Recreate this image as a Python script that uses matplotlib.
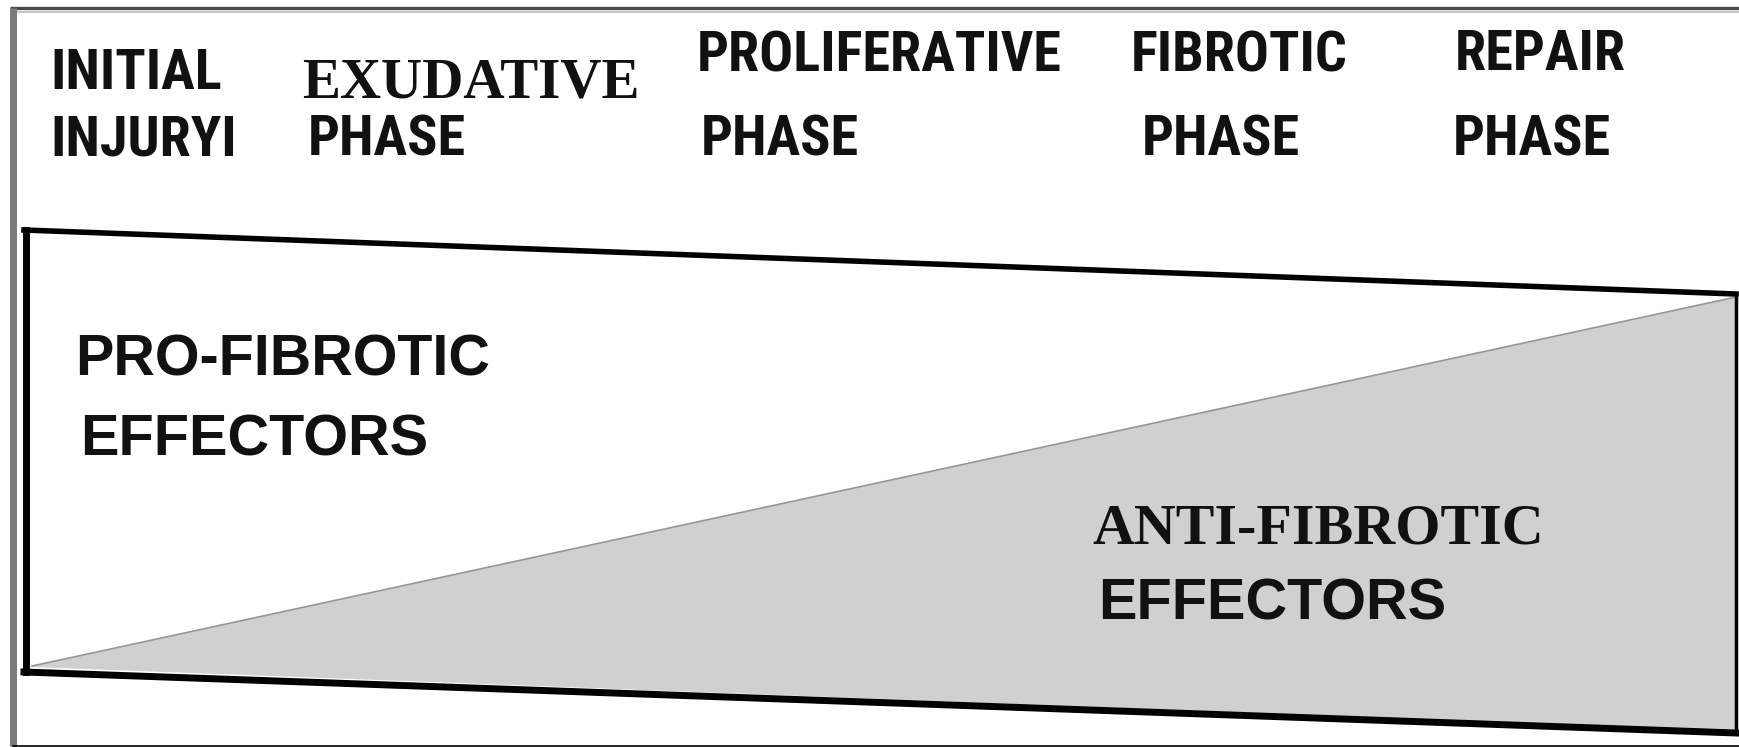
import matplotlib
matplotlib.use("Agg")
import matplotlib.pyplot as plt
from matplotlib import font_manager as fm
from matplotlib.patches import Polygon

# phase labels along the top (two lines each)
phase_top = ["INITIAL", "EXUDATIVE", "PROLIFERATIVE", "FIBROTIC", "REPAIR"]
phase_bottom = ["INJURYI", "PHASE", "PHASE", "PHASE", "PHASE"]
phase_x = [50, 302, 697, 1131, 1455]
phase_bottom_x = [50, 308, 701, 1142, 1453]
phase_top_y = [89, 98, 72, 72, 70]

# balance band: time runs left -> right, anti-fibrotic share grows 0 -> 1
band_x = [24, 1736]
band_top = [230, 294]
band_bottom = [672, 733]
anti_share = [0.0, 1.0]

names = {f.name for f in fm.fontManager.ttflist}
narrow = None
for cand in ["Liberation Sans Narrow", "Arial Narrow", "Roboto Condensed"]:
    if cand in names:
        narrow = cand
        break
head_size = 40.5
if narrow is None:
    narrow = "Liberation Sans"
    head_size = 35
serif = "Liberation Serif"

W, H = 1739, 747
fig = plt.figure(figsize=(W / 100, H / 100), dpi=100)
ax = fig.add_axes([0, 0, 1, 1])
ax.set_xlim(0, W)
ax.set_ylim(H, 0)
ax.axis("off")

# outer frame
ax.plot([10, W], [8, 8], color="#4a4a4a", lw=2.4, solid_capstyle="butt")
ax.plot([10, W], [11.5, 11.5], color="#bdbdbd", lw=1.2, solid_capstyle="butt")
ax.plot([13, 13], [8, 746], color="#7a7a7a", lw=5, solid_capstyle="butt")
ax.plot([13, W], [746, 746], color="black", lw=1.2)

# anti-fibrotic (gray) region below the diagonal
x0, x1 = band_x
def diag(i):
    return band_bottom[i] - anti_share[i] * (band_bottom[i] - band_top[i])
gray = Polygon([(x0 + 8, band_bottom[0] - 5), (x1, band_bottom[1] - 2),
                (x1, diag(1) + 3), (x0 + 8, diag(0) - 6)],
               closed=True, facecolor="#d0d0d0", edgecolor="none", zorder=1)
ax.add_patch(gray)
ax.plot([x0 + 8, x1], [diag(0) - 6, diag(1) + 3], color="#979797", lw=1.2, zorder=2)

# band outline
ax.plot([x0, x1], [band_top[0], band_top[1]], color="black", lw=4, zorder=3,
        solid_capstyle="projecting")
ax.plot([x0, x1], [band_bottom[0], band_bottom[1]], color="black", lw=5, zorder=3,
        solid_capstyle="projecting")
ax.plot([x0 + 2, x0 + 2], [band_top[0], band_bottom[0]], color="black", lw=5, zorder=3)
ax.plot([x1, x1], [band_top[1], band_bottom[1]], color="black", lw=2.5, zorder=3)

# phase headings
for i, (t, b) in enumerate(zip(phase_top, phase_bottom)):
    if t == "EXUDATIVE":
        ax.text(phase_x[i], phase_top_y[i], t, fontsize=41, family=serif,
                fontweight="bold", va="baseline", ha="left", color="#111111")
    else:
        ax.text(phase_x[i], phase_top_y[i], t, fontsize=head_size, family=narrow,
                fontweight="bold", va="baseline", ha="left", color="#111111")
    ax.text(phase_bottom_x[i], 155, b, fontsize=head_size, family=narrow,
            fontweight="bold", va="baseline", ha="left", color="#111111")

# effector labels
ax.text(75, 375, "PRO-FIBROTIC", fontsize=41.3, family="Liberation Sans",
        fontweight="bold", va="baseline", color="#111111")
ax.text(80, 455, "EFFECTORS", fontsize=41.5, family="Liberation Sans",
        fontweight="bold", va="baseline", color="#111111")
ax.text(1092, 543, "ANTI-FIBROTIC", fontsize=41.8, family=serif,
        fontweight="bold", va="baseline", color="#111111")
ax.text(1098, 619, "EFFECTORS", fontsize=41.5, family="Liberation Sans",
        fontweight="bold", va="baseline", color="#111111")

fig.savefig("out.png", dpi=100)
